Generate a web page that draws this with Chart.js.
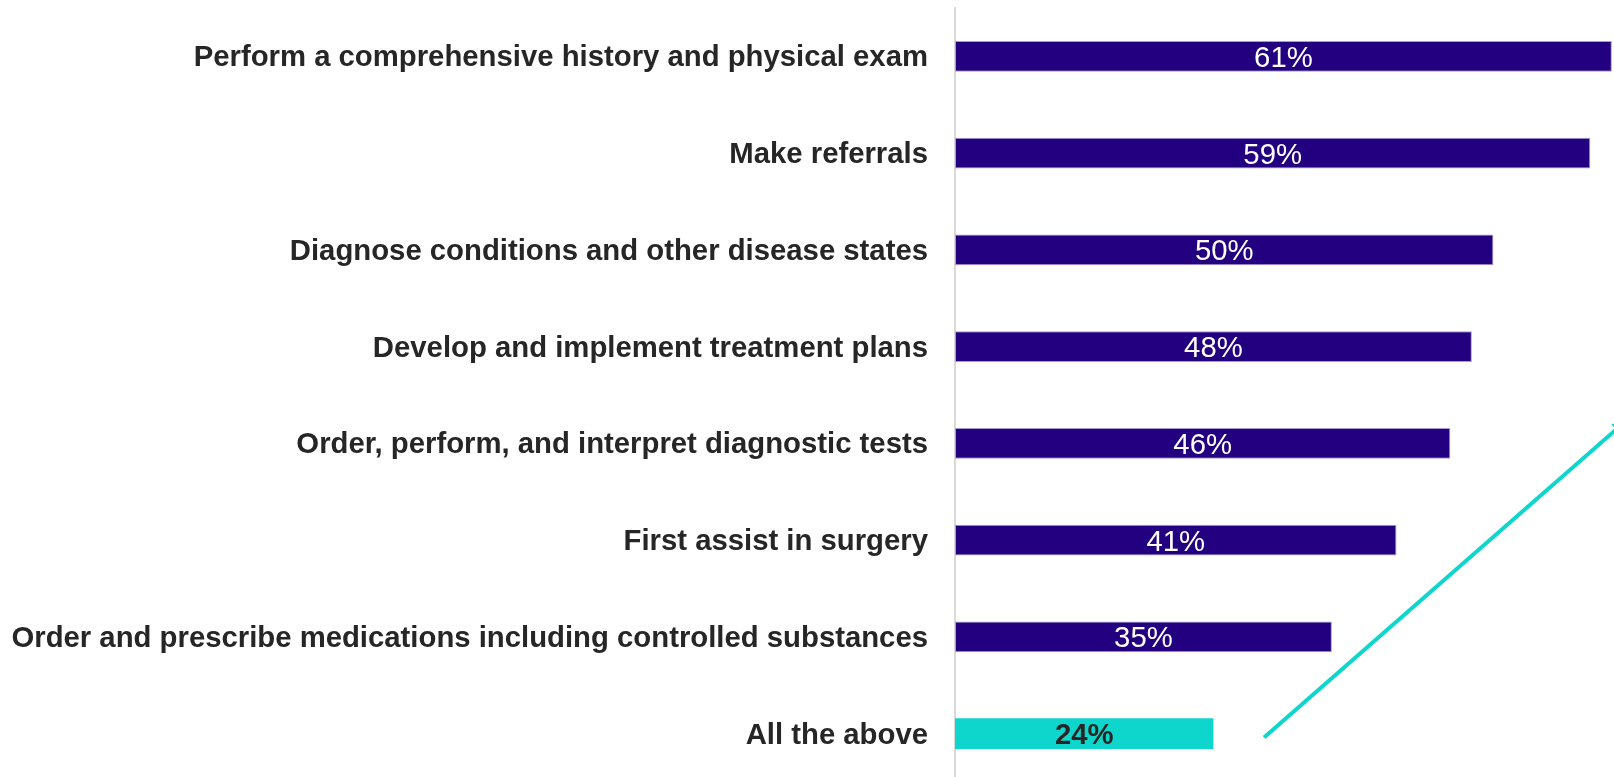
<!DOCTYPE html>
<html>
<head>
<meta charset="utf-8">
<script src="https://cdn.jsdelivr.net/npm/chart.js@4"></script>
<style>
  html, body { margin: 0; padding: 0; background: #fff; overflow: hidden; }
  #wrap { width: 1614px; height: 782px; position: relative; }
</style>
</head>
<body>
<div id="wrap"><canvas id="chart"></canvas></div>
<script>
const categories = [
  'Perform a comprehensive history and physical exam',
  'Make referrals',
  'Diagnose conditions and other disease states',
  'Develop and implement treatment plans',
  'Order, perform, and interpret diagnostic tests',
  'First assist in surgery',
  'Order and prescribe medications including controlled substances',
  'All the above'
];
const values = [61, 59, 50, 48, 46, 41, 35, 24];
const highlighted = [false, false, false, false, false, false, false, true];
// trend arrow, in data units (x = percent, y = category index)
const arrowFrom = { x: 28.7, y: 7.04 };
const arrowTo = { x: 62.4, y: 3.76 };

const purple = '#22007f';
const teal = '#0fd6cc';
const textDark = '#262626';
const fontFamily = '"Liberation Sans", Arial, sans-serif';

const valueLabels = {
  id: 'valueLabels',
  afterDatasetsDraw(chart) {
    const ctx = chart.ctx;
    const meta = chart.getDatasetMeta(0);
    ctx.save();
    ctx.textAlign = 'center';
    ctx.textBaseline = 'middle';
    meta.data.forEach((bar, i) => {
      const hi = highlighted[i];
      ctx.font = (hi ? 'bold ' : '') + '29.3px ' + fontFamily;
      ctx.fillStyle = hi ? textDark : '#ffffff';
      const cx = (bar.base + bar.x) / 2;
      ctx.fillText(values[i] + '%', cx, bar.y + 2.5);
    });
    ctx.restore();
  }
};

const trendArrow = {
  id: 'trendArrow',
  afterDatasetsDraw(chart) {
    const { ctx, scales: { x, y } } = chart;
    const x1 = x.getPixelForValue(arrowFrom.x), y1 = y.getPixelForValue(arrowFrom.y);
    const x2 = x.getPixelForValue(arrowTo.x), y2 = y.getPixelForValue(arrowTo.y);
    ctx.save();
    ctx.strokeStyle = teal;
    ctx.fillStyle = teal;
    ctx.lineWidth = 4;
    ctx.beginPath();
    ctx.moveTo(x1, y1);
    ctx.lineTo(x2, y2);
    ctx.stroke();
    const ang = Math.atan2(y2 - y1, x2 - x1);
    const len = 16;
    ctx.beginPath();
    ctx.moveTo(x2 + 4 * Math.cos(ang), y2 + 4 * Math.sin(ang));
    ctx.lineTo(x2 - len * Math.cos(ang - 0.45), y2 - len * Math.sin(ang - 0.45));
    ctx.lineTo(x2 - len * Math.cos(ang + 0.45), y2 - len * Math.sin(ang + 0.45));
    ctx.closePath();
    ctx.fill();
    ctx.restore();
  }
};

new Chart(document.getElementById('chart').getContext('2d'), {
  type: 'bar',
  data: {
    labels: categories,
    datasets: [{
      data: values,
      backgroundColor: highlighted.map(h => h ? teal : purple),
      borderColor: highlighted.map(h => h ? teal : '#a59cd6'),
      borderWidth: highlighted.map(h => h ? 0 : 1),
      borderSkipped: false,
      barPercentage: 0.32,
      categoryPercentage: 1
    }]
  },
  options: {
    indexAxis: 'y',
    responsive: true,
    maintainAspectRatio: false,
    animation: false,
    layout: { padding: { top: 8, left: 0, right: 0, bottom: 0 } },
    plugins: {
      legend: { display: false },
      tooltip: { enabled: false }
    },
    scales: {
      x: {
        display: false,
        min: 0,
        max: 61.2
      },
      y: {
        afterFit(scale) {
          scale.width = 955;
          scale.paddingTop = 0;
          scale.paddingBottom = 0;
        },
        grid: { display: false, drawTicks: false },
        border: { display: true, color: '#d9d9d9', width: 2 },
        ticks: {
          color: textDark,
          padding: 27,
          autoSkip: false,
          labelOffset: 2,
          font: { family: fontFamily, size: 29.3, weight: 'bold' }
        }
      }
    }
  },
  plugins: [valueLabels, trendArrow]
});
</script>
</body>
</html>
